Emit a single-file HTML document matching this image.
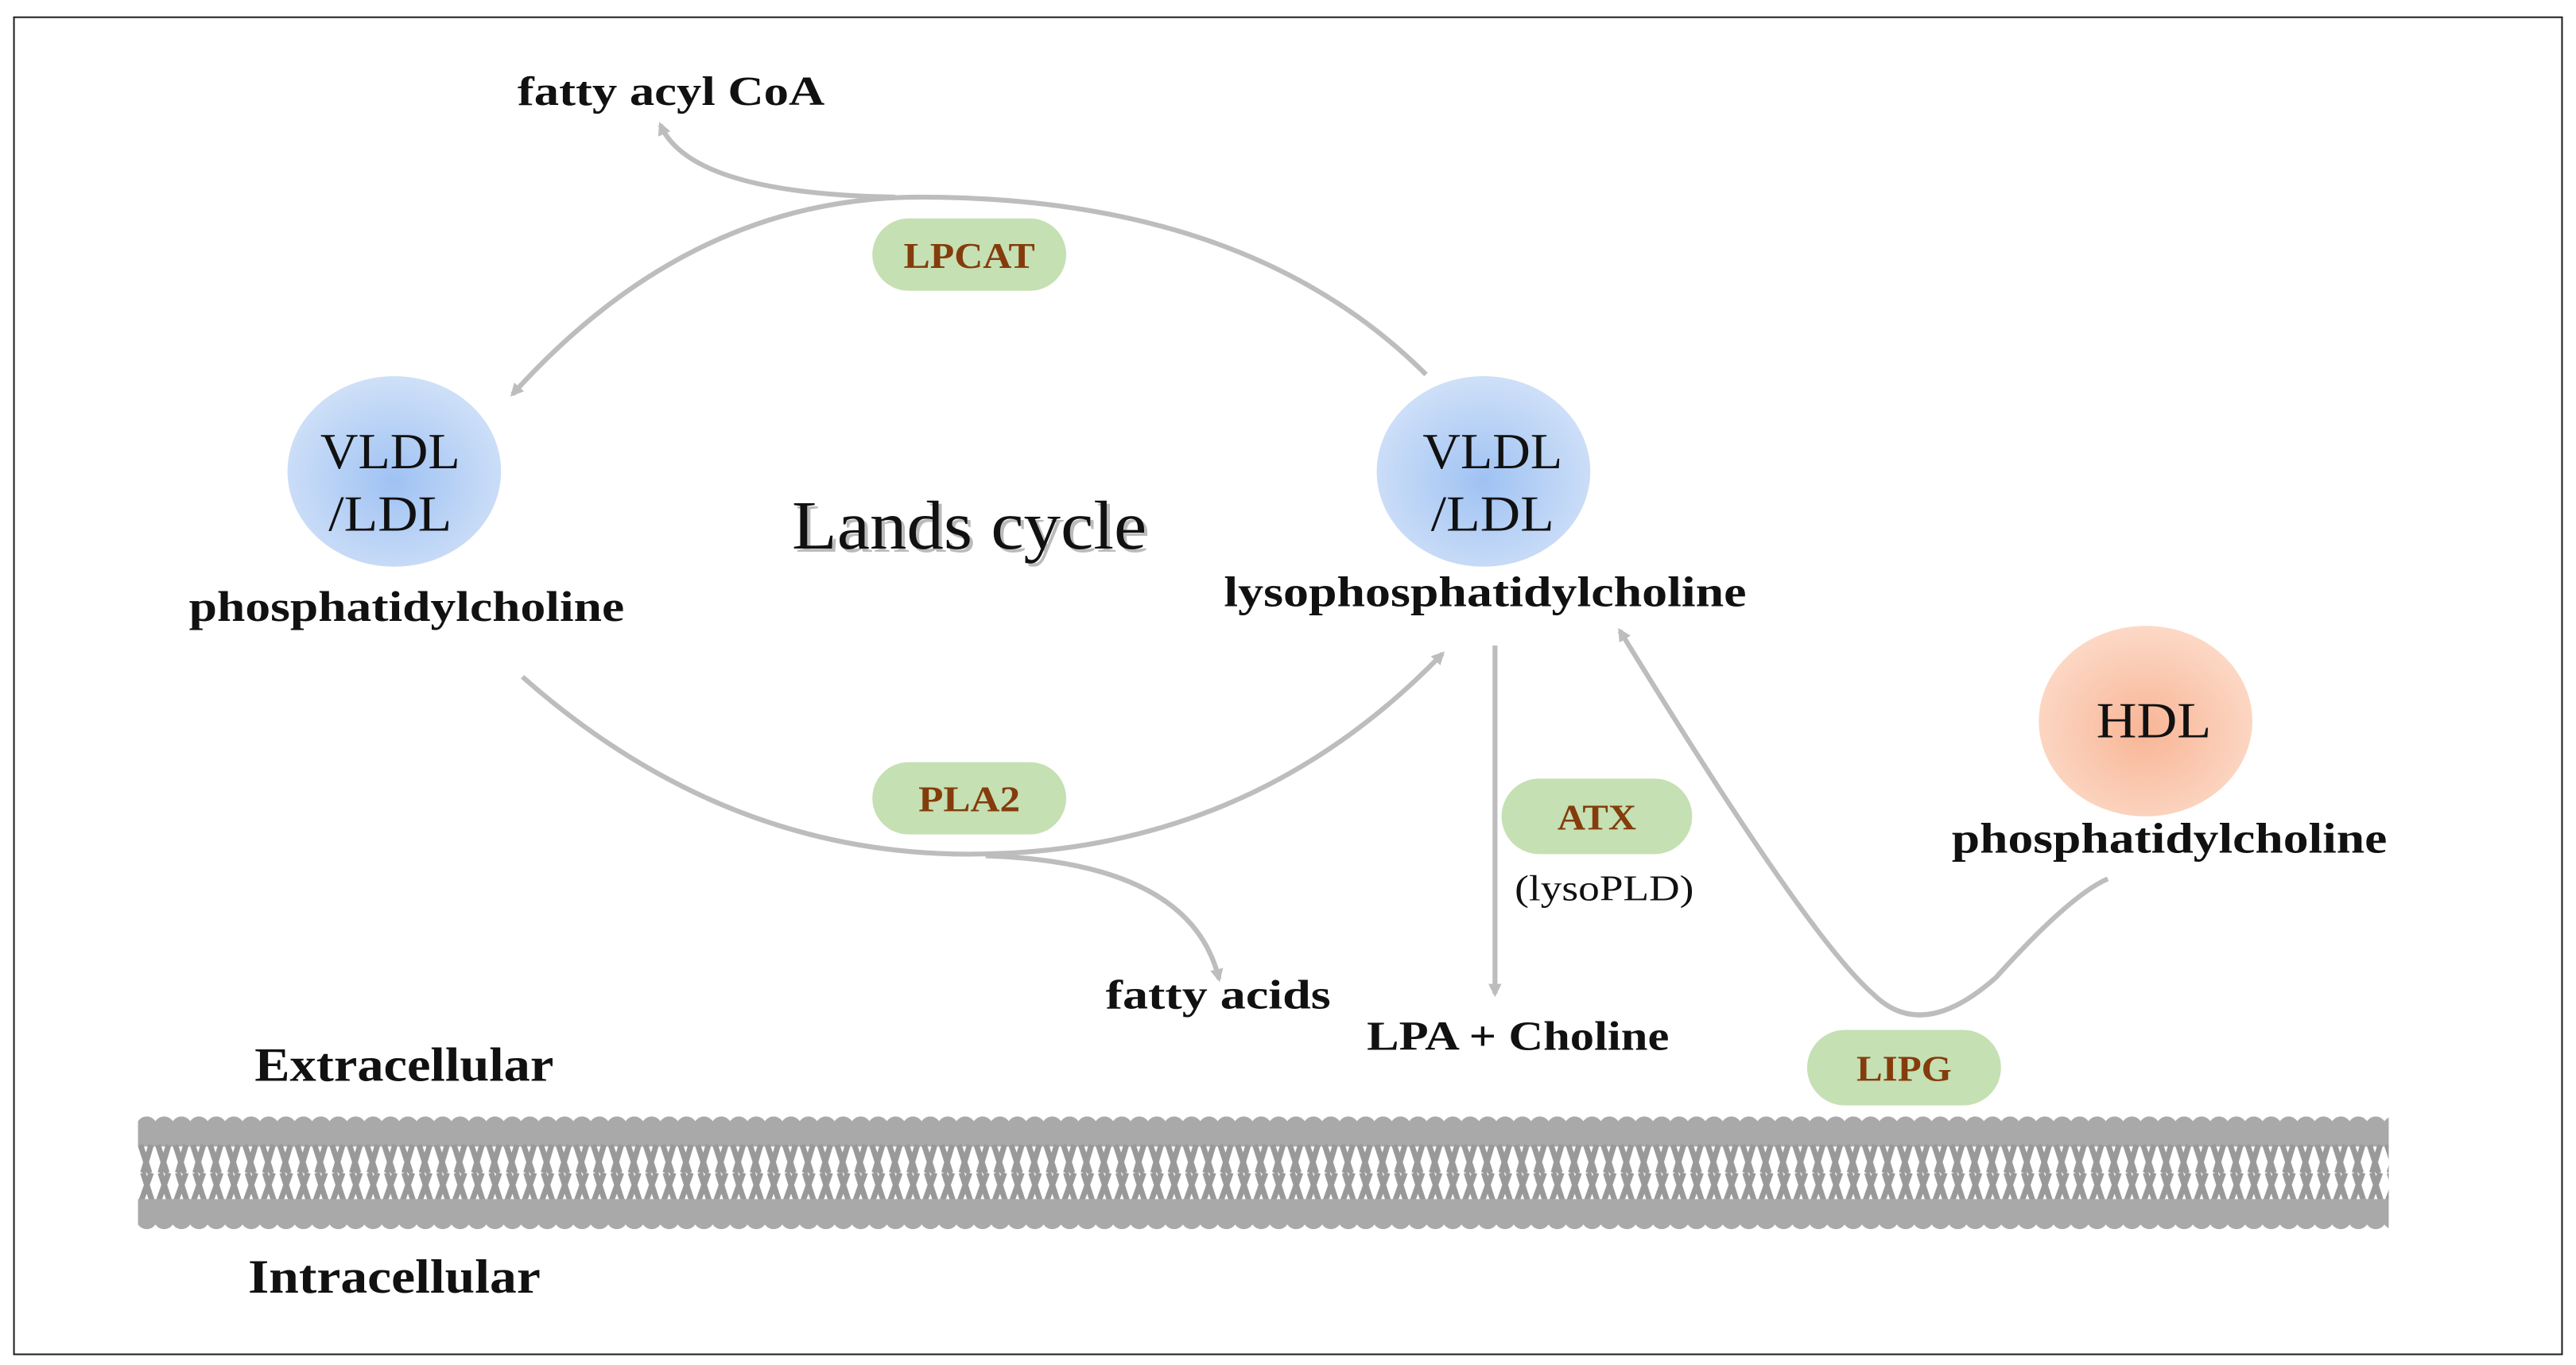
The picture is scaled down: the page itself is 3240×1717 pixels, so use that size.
<!DOCTYPE html>
<html><head><meta charset="utf-8"><style>
html,body{margin:0;padding:0;background:#fff}
svg{display:block}
text{font-family:"Liberation Serif",serif}
.b{font-weight:bold;fill:#111}
.e{font-weight:bold;fill:#843c0c;font-size:22px}
</style></head><body>
<svg width="3240" height="1717" viewBox="0 0 1568 831" preserveAspectRatio="none" xmlns="http://www.w3.org/2000/svg">
<defs>
<radialGradient id="bl" cx="50%" cy="55%" r="55%"><stop offset="0" stop-color="#9fc2f3"/><stop offset="1" stop-color="#cfe0f8"/></radialGradient>
<radialGradient id="pc" cx="50%" cy="55%" r="55%"><stop offset="0" stop-color="#f8b596"/><stop offset="1" stop-color="#fcd9c6"/></radialGradient>
<marker id="ar" markerWidth="8" markerHeight="8" refX="6" refY="4" orient="auto" markerUnits="userSpaceOnUse"><path d="M0,0 L8,4 L0,8 z" fill="#bdbdbd"/></marker>
<pattern id="mem" x="84" y="0" width="10.6" height="831" patternUnits="userSpaceOnUse">
<circle cx="5.3" cy="686" r="6.3" fill="#a9a9a9"/>
<rect x="0" y="686" width="10.6" height="12" fill="#a9a9a9"/>
<path d="M1.5,697 L7,714 M8,697 L3,714 M3,714 L8.5,731 M8,714 L2,731" stroke="#999" stroke-width="3.4" fill="none"/>
<rect x="0" y="730" width="10.6" height="12" fill="#a9a9a9"/>
<circle cx="5.3" cy="742" r="6.3" fill="#a9a9a9"/>
</pattern>
</defs>
<rect x="8.5" y="10.5" width="1551" height="814" fill="none" stroke="#222" stroke-width="1"/>
<g fill="none" stroke="#bdbdbd" stroke-width="3">
<path d="M868,228 Q760,120 560,120 Q420,120 312,240" marker-end="url(#ar)"/>
<path d="M545,120 Q420,118 402,76" marker-end="url(#ar)"/>
<path d="M318,412 Q440,520 590,520 Q760,520 878,398" marker-end="url(#ar)"/>
<path d="M600,521 Q725,525 742,596" marker-end="url(#ar)"/>
<path d="M910,393 L910,605" marker-end="url(#ar)"/>
<path d="M1283,535 Q1260,545 1215,595 Q1170,635 1140,605 Q1100,570 986,384" marker-end="url(#ar)"/>
</g>
<g lengthAdjust="spacingAndGlyphs">
<rect x="531" y="133" width="118" height="44" rx="22" fill="#c5e0b3"/>
<text x="550" y="163" class="e" textLength="80" lengthAdjust="spacingAndGlyphs">LPCAT</text>
<rect x="531" y="464" width="118" height="44" rx="22" fill="#c5e0b3"/>
<text x="559" y="494" class="e" textLength="62" lengthAdjust="spacingAndGlyphs">PLA2</text>
<rect x="914" y="474" width="116" height="46" rx="23" fill="#c5e0b3"/>
<text x="948" y="505" class="e" textLength="48" lengthAdjust="spacingAndGlyphs">ATX</text>
<rect x="1100" y="627" width="118" height="46" rx="23" fill="#c5e0b3"/>
<text x="1130" y="658" class="e" textLength="58" lengthAdjust="spacingAndGlyphs">LIPG</text>
</g>
<ellipse cx="240" cy="287" rx="65" ry="58" fill="url(#bl)"/>
<ellipse cx="903" cy="287" rx="65" ry="58" fill="url(#bl)"/>
<ellipse cx="1306" cy="439" rx="65" ry="58" fill="url(#pc)"/>
<g font-size="31" fill="#111">
<text x="195" y="285" textLength="85" lengthAdjust="spacingAndGlyphs">VLDL</text><text x="200" y="323" textLength="75" lengthAdjust="spacingAndGlyphs">/LDL</text>
<text x="866" y="285" textLength="85" lengthAdjust="spacingAndGlyphs">VLDL</text><text x="871" y="323" textLength="75" lengthAdjust="spacingAndGlyphs">/LDL</text>
<text x="1276" y="449" textLength="70" lengthAdjust="spacingAndGlyphs">HDL</text>
</g>
<text x="315" y="64" font-size="25" class="b" textLength="187" lengthAdjust="spacingAndGlyphs">fatty  acyl CoA</text>
<text x="115" y="378" font-size="26" class="b" textLength="265" lengthAdjust="spacingAndGlyphs">phosphatidylcholine</text>
<text x="745" y="369" font-size="26" class="b" textLength="318" lengthAdjust="spacingAndGlyphs">lysophosphatidylcholine</text>
<text x="1188" y="519" font-size="26" class="b" textLength="265" lengthAdjust="spacingAndGlyphs">phosphatidylcholine</text>
<text x="484" y="336" font-size="42" fill="#bbb" textLength="216" lengthAdjust="spacingAndGlyphs">Lands cycle</text>
<text x="482" y="334" font-size="42" fill="#111" textLength="216" lengthAdjust="spacingAndGlyphs">Lands cycle</text>
<text x="673" y="614" font-size="25" class="b" textLength="137" lengthAdjust="spacingAndGlyphs">fatty  acids</text>
<text x="832" y="639" font-size="25" class="b" textLength="184" lengthAdjust="spacingAndGlyphs">LPA + Choline</text>
<text x="922" y="548" font-size="22" fill="#111" textLength="109" lengthAdjust="spacingAndGlyphs">(lysoPLD)</text>
<text x="155" y="658" font-size="29" class="b" textLength="182" lengthAdjust="spacingAndGlyphs">Extracellular</text>
<text x="151" y="787" font-size="29" class="b" textLength="178" lengthAdjust="spacingAndGlyphs">Intracellular</text>
<rect x="84" y="676" width="1370" height="76" fill="url(#mem)"/>
</svg>
</body></html>
